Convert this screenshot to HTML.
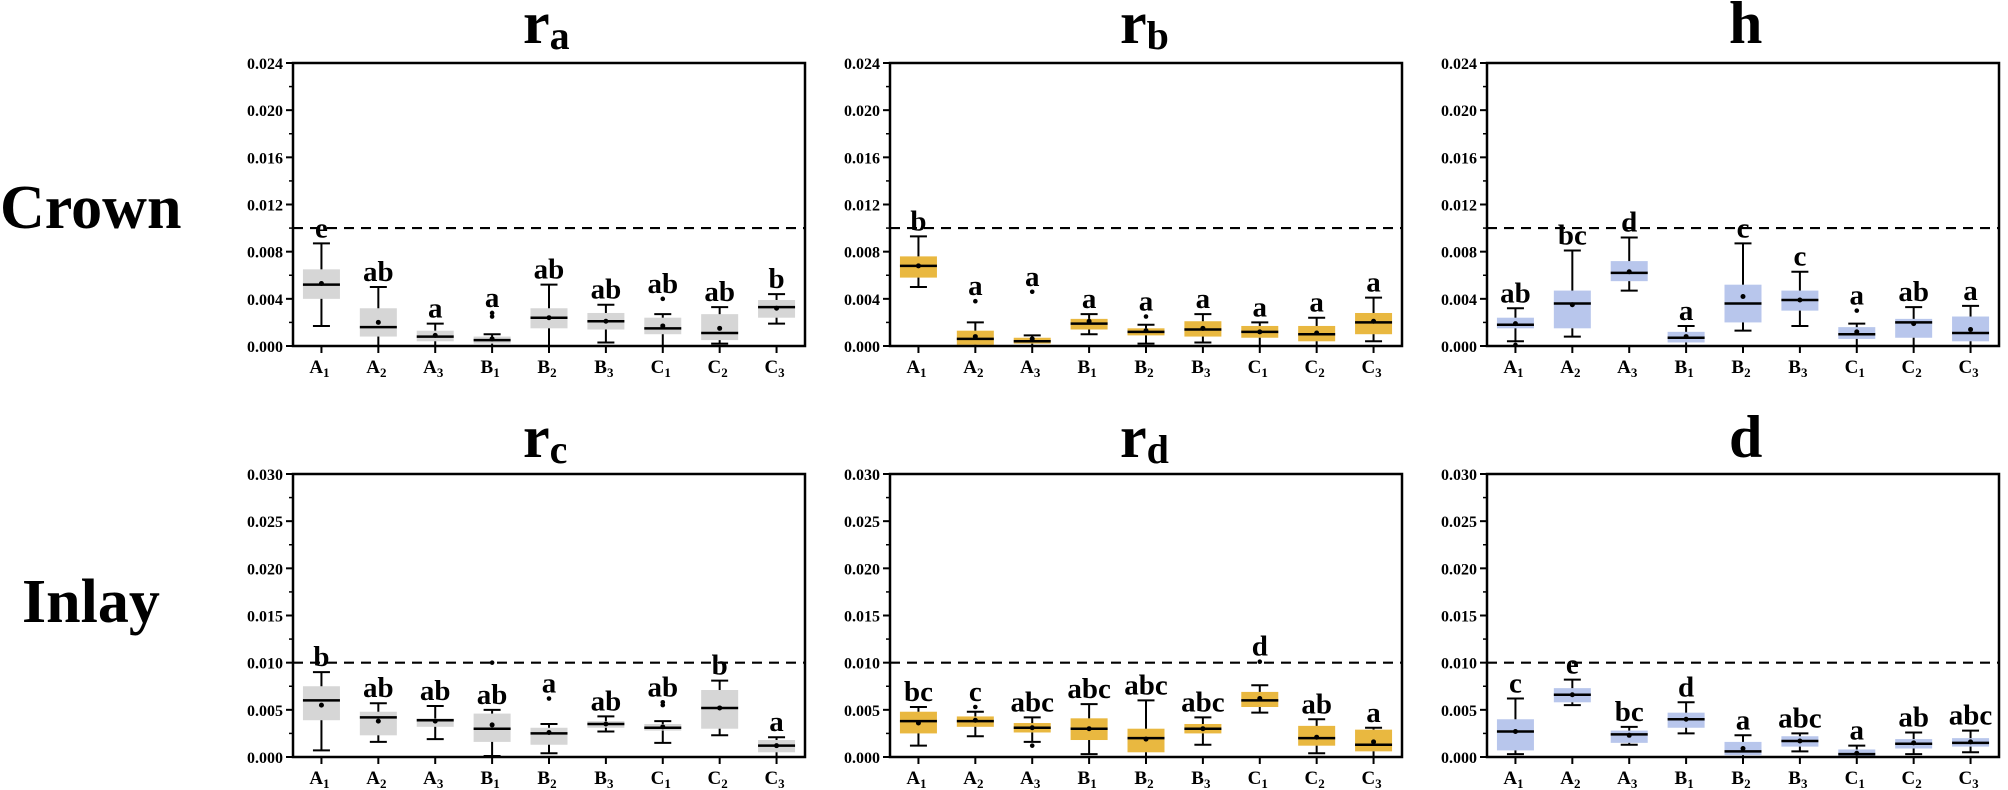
<!DOCTYPE html>
<html><head><meta charset="utf-8"><style>
html,body{margin:0;padding:0;background:#fff;}
svg{display:block;}
text{font-family:"Liberation Serif",serif;font-weight:bold;fill:#000;}
</style></head><body>
<svg id="s" width="2008" height="790" xmlns="http://www.w3.org/2000/svg">
<text x="0" y="228" font-size="62">Crown</text>
<text x="22" y="622" font-size="62">Inlay</text>
</svg>
<script>
const S=document.getElementById('s');
const NS='http://www.w3.org/2000/svg';
function el(t,a,txt){const e=document.createElementNS(NS,t);for(const k in a)e.setAttribute(k,a[k]);if(txt!==undefined)e.textContent=txt;S.appendChild(e);return e;}
const gray='#d6d6d6',gold='#e9b840',blue='#b8c6ec';
const cats=[['A','1'],['A','2'],['A','3'],['B','1'],['B','2'],['B','3'],['C','1'],['C','2'],['C','3']];
// [q1,med,q3,lo,hi,mean,letter,outliers,ignoreOutliersForLabel]
const P=[
{x:293,top:63,z:346,max:0.024,step:0.004,dec:3,col:gray,t:['r','a'],ty:43,d:[
[.004,.0052,.0065,.0017,.0087,.0053,'e',[]],
[.0008,.0016,.0032,0,.005,.002,'ab',[]],
[.0004,.0008,.0013,0,.0019,.0009,'a',[]],
[.0002,.0005,.0008,0,.001,.0006,'a',[.0025,.0028]],
[.0015,.0024,.0032,0,.0052,.0024,'ab',[]],
[.0014,.0021,.0028,.0003,.0035,.0021,'ab',[]],
[.001,.0015,.0024,0,.0027,.0017,'ab',[.004]],
[.0005,.0011,.0027,.0002,.0033,.0015,'ab',[]],
[.0024,.0033,.0039,.0019,.0044,.0032,'b',[]]]},
{x:890,top:63,z:346,max:0.024,step:0.004,dec:3,col:gold,t:['r','b'],ty:43,d:[
[.0058,.0068,.0076,.005,.0093,.0068,'b',[]],
[.0001,.0006,.0013,0,.002,.0008,'a',[.0038]],
[.0002,.0004,.0007,0,.0009,.0006,'a',[.0046]],
[.0014,.0019,.0023,.001,.0027,.0021,'a',[]],
[.0009,.0012,.0015,.0002,.0018,.0013,'a',[.0025]],
[.0008,.0014,.0021,.0003,.0027,.0015,'a',[]],
[.0007,.0012,.0017,0,.002,.0012,'a',[]],
[.0004,.001,.0017,0,.0024,.0011,'a',[]],
[.001,.002,.0028,.0004,.0041,.0021,'a',[]]]},
{x:1487,top:63,z:346,max:0.024,step:0.004,dec:3,col:blue,t:['h',''],ty:43,d:[
[.0015,.0018,.0024,.0004,.0032,.0019,'ab',[.0001]],
[.0015,.0036,.0047,.0008,.0081,.0035,'bc',[]],
[.0055,.0062,.0072,.0047,.0092,.0063,'d',[]],
[.0003,.0007,.0012,0,.0017,.0008,'a',[]],
[.002,.0036,.0052,.0013,.0087,.0042,'c',[]],
[.003,.0039,.0047,.0017,.0063,.0039,'c',[]],
[.0006,.001,.0016,0,.0019,.0012,'a',[.003]],
[.0007,.002,.0023,0,.0033,.0019,'ab',[]],
[.0004,.0011,.0025,0,.0034,.0014,'a',[]]]},
{x:293,top:474,z:757,max:0.030,step:0.005,dec:3,col:gray,t:['r','c'],ty:457,d:[
[.0039,.006,.0075,.0007,.009,.0055,'b',[]],
[.0023,.0042,.0048,.0016,.0057,.0038,'ab',[]],
[.0032,.0039,.0041,.0019,.0054,.0038,'ab',[]],
[.0016,.003,.0046,.0001,.005,.0034,'ab',[.01],true],
[.0013,.0025,.0031,.0004,.0035,.0026,'a',[.0062]],
[.0031,.0035,.0038,.0027,.0043,.0035,'ab',[]],
[.0028,.0031,.0035,.0015,.0038,.0032,'ab',[.0055,.0058]],
[.003,.0052,.0071,.0023,.0081,.0052,'b',[]],
[.0005,.0012,.0018,0,.0021,.0012,'a',[]]]},
{x:890,top:474,z:757,max:0.030,step:0.005,dec:3,col:gold,t:['r','d'],ty:457,d:[
[.0025,.0038,.0048,.0012,.0053,.0036,'bc',[]],
[.0032,.0038,.0043,.0022,.0048,.0039,'c',[.0053]],
[.0026,.0031,.0036,.0016,.0042,.0031,'abc',[.0012]],
[.0018,.003,.0041,.0003,.0056,.003,'abc',[]],
[.0005,.002,.003,0,.006,.0019,'abc',[]],
[.0025,.003,.0035,.0013,.0042,.003,'abc',[]],
[.0053,.006,.0069,.0047,.0076,.0062,'d',[.0101]],
[.0012,.002,.0033,.0004,.004,.0021,'ab',[]],
[.0006,.0013,.0029,0,.0031,.0016,'a',[]]]},
{x:1487,top:474,z:757,max:0.030,step:0.005,dec:3,col:blue,t:['d',''],ty:457,d:[
[.0007,.0027,.004,.0003,.0062,.0027,'c',[]],
[.0058,.0066,.0073,.0055,.0082,.0066,'e',[]],
[.0015,.0024,.0028,.0013,.0032,.0023,'bc',[]],
[.0031,.004,.0047,.0025,.0058,.004,'d',[]],
[.0002,.0006,.0016,0,.0023,.0009,'a',[]],
[.0011,.0017,.0022,.0006,.0025,.0017,'abc',[]],
[0,.0003,.0008,0,.0012,.0004,'a',[]],
[.0009,.0014,.0019,.0003,.0026,.0015,'ab',[]],
[.0011,.0015,.002,.0005,.0028,.0016,'abc',[]]]}
];
const W=512,BW=37,CW=17;
P.forEach(p=>{
 const Y=v=>p.z-(v/p.max)*(p.z-p.top);
 const cx=i=>p.x+W/9*(i+0.5);
 const t=el('text',{x:p.x+W/2-(p.t[1]?26:14),y:p.ty,'font-size':60});
 t.textContent=p.t[0];
 if(p.t[1]){const ts=document.createElementNS(NS,'tspan');ts.setAttribute('font-size','40');ts.setAttribute('dy','6');ts.textContent=p.t[1];t.appendChild(ts);}
 p.d.forEach((b,i)=>{
  const x=cx(i);
  el('rect',{x:x-BW/2,y:Y(b[2]),width:BW,height:Y(b[0])-Y(b[2]),fill:p.col});
  el('line',{x1:x,x2:x,y1:Y(b[2]),y2:Y(b[4]),stroke:'#000','stroke-width':2});
  el('line',{x1:x,x2:x,y1:Y(b[0]),y2:Y(b[3]),stroke:'#000','stroke-width':2});
  el('line',{x1:x-CW/2,x2:x+CW/2,y1:Y(b[4]),y2:Y(b[4]),stroke:'#000','stroke-width':2});
  el('line',{x1:x-CW/2,x2:x+CW/2,y1:Y(b[3]),y2:Y(b[3]),stroke:'#000','stroke-width':2});
  el('line',{x1:x-BW/2,x2:x+BW/2,y1:Y(b[1]),y2:Y(b[1]),stroke:'#000','stroke-width':2.5});
  el('circle',{cx:x,cy:Y(b[5]),r:2.5,fill:'#000'});
  let top=Y(b[4]);
  b[7].forEach(o=>{el('circle',{cx:x,cy:Y(o),r:2.3,fill:'#000'});if(!b[8])top=Math.min(top,Y(o));});
  el('text',{x:x,y:top-6,'font-size':29,'text-anchor':'middle'},b[6]);
  el('line',{x1:x,x2:x,y1:p.z,y2:p.z+7,stroke:'#000','stroke-width':2});
  const lt=el('text',{x:x-2,y:p.z+27,'font-size':19,'text-anchor':'middle'});
  lt.textContent=cats[i][0];
  const ts=document.createElementNS(NS,'tspan');ts.setAttribute('font-size','13');ts.setAttribute('dy','4');ts.textContent=cats[i][1];lt.appendChild(ts);
 });
 el('line',{x1:p.x,x2:p.x+W,y1:Y(0.01),y2:Y(0.01),stroke:'#000','stroke-width':2.2,'stroke-dasharray':'10 7'});
 const n=Math.round(p.max/p.step);
 for(let k=0;k<=n;k++){
  const v=k*p.step,y=Y(v);
  el('line',{x1:p.x-7,x2:p.x,y1:y,y2:y,stroke:'#000','stroke-width':2});
  el('text',{x:p.x-10,y:y+6,'font-size':16,'text-anchor':'end'},v.toFixed(3));
  if(k<n){const ym=Y(v+p.step/2);el('line',{x1:p.x-4,x2:p.x,y1:ym,y2:ym,stroke:'#000','stroke-width':1.5});}
 }
 el('rect',{x:p.x,y:p.top,width:W,height:p.z-p.top,fill:'none',stroke:'#000','stroke-width':2.5});
});
</script>
</body></html>
